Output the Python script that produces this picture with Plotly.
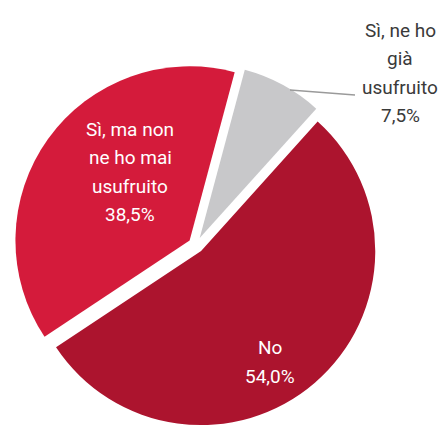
import plotly.graph_objects as go

# Survey answers, in clockwise drawing order
labels = ["Sì, ne ho già usufruito", "No", "Sì, ma non ne ho mai usufruito"]
values = [7.5, 54.0, 38.5]
colors = ["#C8C8CA", "#AC142E", "#D41B3B"]
label_lines = [["Sì, ne ho", "già", "usufruito"], ["No"], ["Sì, ma non", "ne ho mai", "usufruito"]]

W, H = 445, 427
LINE_GAP = 28.5  # px between label lines
FONT = "Roboto, 'Open Sans', sans-serif"

# label block centres (px from top-left) and text colours
label_pos = [(400, 73), (270, 362), (130, 172)]
label_color = ["#3A3A3A", "#FFFFFF", "#FFFFFF"]


def fmt_pct(v):
    return f"{v:.1f}".replace(".", ",") + "%"


fig = go.Figure(
    go.Pie(
        labels=labels,
        values=values,
        sort=False,
        direction="clockwise",
        rotation=15,
        pull=[0.045] * len(values),
        marker=dict(colors=colors, line=dict(width=0)),
        textinfo="none",
        hoverinfo="label+percent",
        showlegend=False,
        domain=dict(x=[0.0314, 0.8494], y=[0.0, 0.8525]),
    )
)

annotations = []
for lines, val, (cx, cy), col in zip(label_lines, values, label_pos, label_color):
    rows = lines + [fmt_pct(val)]
    n = len(rows)
    for i, row in enumerate(rows):
        py = cy + (i - (n - 1) / 2) * LINE_GAP
        annotations.append(
            dict(
                text=row,
                x=cx / W,
                y=1 - py / H,
                xref="paper",
                yref="paper",
                xanchor="center",
                yanchor="middle",
                showarrow=False,
                font=dict(family=FONT, size=19, color=col),
            )
        )

# leader line from the small slice to its label
fig.add_shape(
    type="line",
    xref="paper",
    yref="paper",
    x0=290 / W,
    y0=1 - 90 / H,
    x1=355 / W,
    y1=1 - 95 / H,
    line=dict(color="#9A9A9A", width=1.5),
)

fig.update_layout(
    width=W,
    height=H,
    margin=dict(l=0, r=0, t=0, b=0),
    paper_bgcolor="white",
    plot_bgcolor="white",
    annotations=annotations,
)

fig.write_html("out.html")
